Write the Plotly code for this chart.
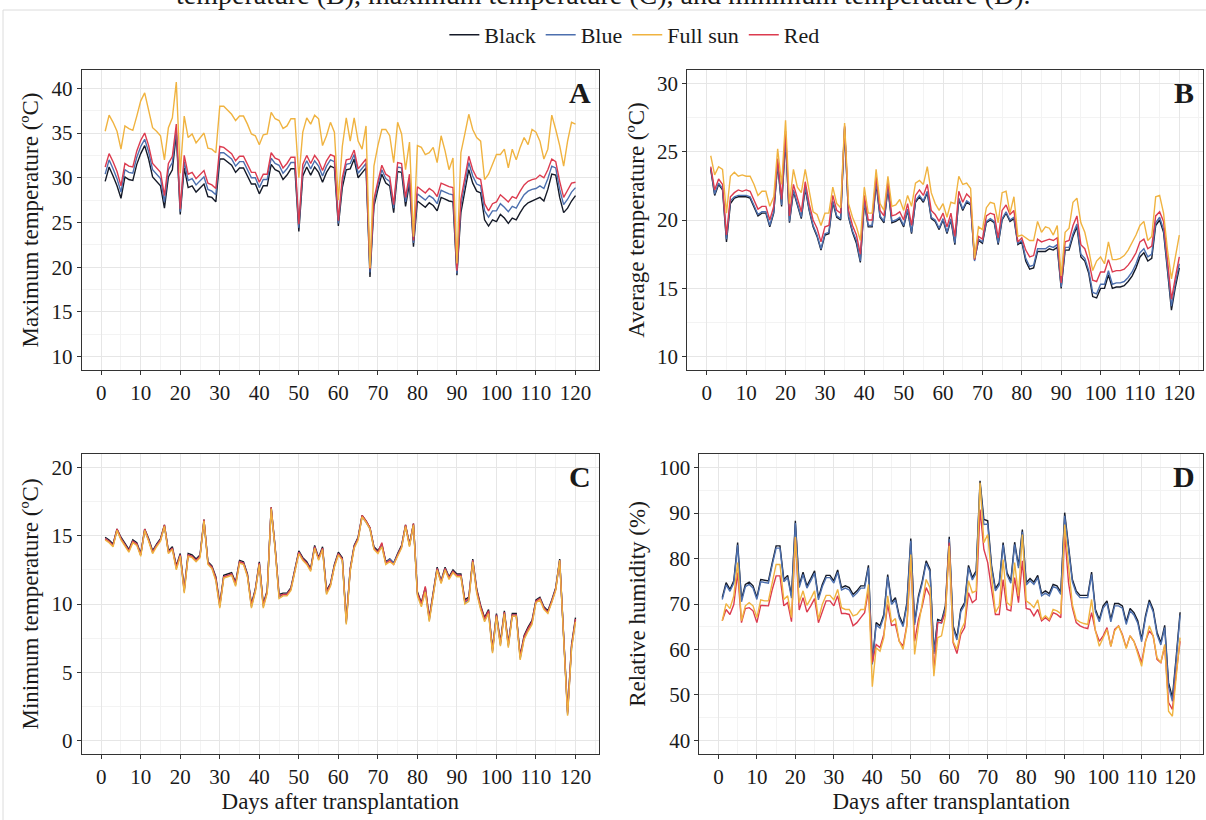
import plotly.graph_objects as go

days = list(range(1, 121))
series_names = ["Black", "Blue", "Full sun", "Red"]
line_colors = {"Black": "#151a28", "Blue": "#4c6fae", "Full sun": "#f0b340", "Red": "#dc3b4f"}
legend_rank = {"Black": 1, "Blue": 2, "Full sun": 3, "Red": 4}
draw_order = ["Black", "Blue", "Red", "Full sun"]

x_ticks = list(range(0, 121, 10))
tmax_ticks = [10, 15, 20, 25, 30, 35, 40]
tavg_ticks = [10, 15, 20, 25, 30]
tmin_ticks = [0, 5, 10, 15, 20]
rh_ticks = [40, 50, 60, 70, 80, 90, 100]

# ---------------- Panel A: maximum temperature ----------------
tmax_black = [29.6, 31.2, 30.2, 29.1, 27.7, 30.1, 29.8, 29.7, 31.5, 32.7,
              33.6, 32.1, 30.1, 29.6, 29.1, 26.6, 30.1, 30.9, 34.9, 25.9,
              31.1, 28.9, 29.1, 28.4, 28.9, 29.3, 27.9, 27.8, 27.3, 32.1,
              32.1, 31.8, 31.4, 30.6, 31.1, 31.1, 30.2, 29.3, 29.3, 28.2,
              29.1, 29.1, 31.5, 30.9, 30.7, 29.8, 30.3, 31.0, 31.0, 24.0,
              30.2, 31.2, 30.3, 31.2, 30.6, 29.5, 30.6, 31.3, 31.1, 24.6,
              28.9, 30.9, 31.0, 32.1, 30.0, 30.6, 31.1, 18.9, 26.8, 28.7,
              30.4, 29.4, 29.1, 26.1, 30.7, 30.6, 26.8, 29.4, 22.3, 27.4,
              27.0, 26.7, 27.2, 26.9, 26.3, 27.8, 27.6, 27.4, 27.3, 19.1,
              26.1, 28.7, 30.9, 29.4, 28.5, 28.3, 25.3, 24.6, 25.3, 25.1,
              25.9, 25.5, 24.9, 25.5, 25.3, 26.1, 26.8, 27.2, 27.4, 27.6,
              27.8, 27.4, 28.7, 30.4, 30.3, 27.8, 26.1, 26.6, 27.4, 28.0]
tmax_blue = [30.4, 32.0, 31.0, 29.9, 28.4, 30.9, 30.6, 30.5, 32.3, 33.5,
             34.3, 32.9, 30.9, 30.4, 29.9, 27.3, 30.9, 31.7, 35.4, 26.2,
             31.8, 29.7, 29.9, 29.2, 29.7, 30.1, 28.7, 28.5, 28.1, 32.8,
             32.8, 32.5, 32.1, 31.3, 31.8, 31.8, 30.9, 30.0, 30.0, 28.9,
             29.8, 29.8, 32.2, 31.6, 31.4, 30.5, 31.0, 31.7, 31.7, 24.4,
             30.9, 31.9, 31.0, 31.9, 31.3, 30.2, 31.3, 32.0, 31.8, 24.9,
             29.5, 31.5, 31.6, 32.6, 30.5, 31.1, 31.6, 19.4, 27.2, 29.2,
             30.9, 29.9, 29.6, 26.6, 31.2, 31.1, 27.3, 29.9, 22.7, 28.2,
             27.8, 27.5, 28.0, 27.7, 27.1, 28.6, 28.4, 28.2, 28.1, 19.3,
             26.9, 29.5, 31.7, 30.2, 29.3, 29.1, 26.3, 25.6, 26.3, 26.3,
             27.1, 26.7, 26.2, 26.8, 26.6, 27.4, 28.1, 28.5, 28.7, 28.8,
             29.1, 28.8, 29.9, 31.3, 31.1, 28.7, 27.0, 27.6, 28.4, 28.9]
tmax_full = [35.2, 37.0, 36.2, 35.2, 33.2, 35.8, 35.5, 35.3, 36.9, 38.6,
             39.5, 37.7, 35.6, 35.2, 34.7, 32.0, 35.6, 36.7, 40.7, 30.5,
             36.9, 34.5, 34.9, 33.9, 34.4, 35.0, 33.3, 33.2, 32.8, 38.0,
             38.0, 37.5, 37.1, 36.4, 36.9, 36.9, 36.0, 34.9, 34.7, 33.7,
             34.8, 34.9, 37.3, 36.6, 36.4, 35.5, 35.8, 36.6, 36.6, 30.0,
             35.1, 36.7, 36.0, 37.0, 36.6, 33.6, 34.7, 36.2, 35.1, 27.5,
             33.5, 36.7, 34.1, 36.7, 34.1, 33.2, 35.8, 19.9, 31.3, 33.6,
             35.4, 35.4, 34.7, 31.7, 36.2, 34.9, 30.9, 34.0, 23.4, 33.6,
             33.4, 32.6, 32.8, 33.4, 31.7, 34.7, 33.0, 30.9, 32.2, 20.4,
             32.8, 34.9, 37.1, 35.4, 34.5, 34.1, 29.8, 30.4, 31.5, 32.6,
             32.6, 33.2, 31.1, 33.2, 32.0, 33.4, 34.5, 33.7, 35.4, 35.1,
             34.1, 32.1, 33.2, 37.0, 35.4, 33.6, 31.3, 34.1, 36.2, 36.0]
tmax_red = [31.2, 32.7, 31.8, 30.7, 29.1, 31.6, 31.3, 31.2, 33.0, 34.2,
            35.0, 33.6, 31.6, 31.1, 30.6, 28.0, 31.6, 32.4, 36.0, 26.5,
            32.5, 30.4, 30.6, 29.9, 30.4, 30.8, 29.4, 29.2, 28.8, 33.5,
            33.4, 33.1, 32.7, 31.9, 32.4, 32.4, 31.5, 30.6, 30.6, 29.5,
            30.4, 30.4, 32.8, 32.2, 32.0, 31.1, 31.6, 32.3, 32.3, 24.8,
            31.5, 32.5, 31.6, 32.5, 31.9, 30.8, 31.9, 32.6, 32.4, 25.2,
            30.0, 32.0, 32.1, 33.1, 31.0, 31.6, 32.1, 19.8, 27.6, 29.6,
            31.4, 30.4, 30.1, 27.0, 31.7, 31.6, 27.8, 30.4, 23.0, 29.0,
            28.6, 28.3, 28.8, 28.5, 27.9, 29.4, 29.2, 29.0, 28.9, 19.6,
            27.6, 30.2, 32.4, 30.9, 30.0, 29.8, 27.1, 26.3, 27.1, 27.3,
            28.1, 27.7, 27.3, 27.9, 27.7, 28.5, 29.2, 29.6, 29.8, 29.9,
            30.3, 30.0, 30.9, 32.1, 31.8, 29.6, 27.8, 28.6, 29.4, 29.5]

# ---------------- Panel B: average temperature ----------------
tavg_black = [23.7, 21.8, 22.6, 22.2, 18.4, 21.2, 21.6, 21.7, 21.7, 21.7,
              21.6, 21.0, 20.3, 20.5, 20.5, 19.5, 20.5, 24.1, 21.0, 25.9,
              19.8, 22.1, 21.0, 20.1, 22.3, 20.7, 19.5, 18.8, 17.8, 18.9,
              19.0, 21.3, 20.2, 20.0, 26.7, 20.2, 19.1, 18.3, 16.9, 21.3,
              19.5, 19.5, 22.7, 20.2, 19.8, 22.3, 19.8, 19.9, 20.1, 19.5,
              20.7, 19.0, 21.3, 21.7, 21.3, 22.0, 20.1, 19.9, 19.3, 20.0,
              19.0, 20.0, 18.2, 21.5, 20.7, 21.3, 21.1, 17.1, 18.5, 18.3,
              19.8, 20.0, 19.8, 18.2, 20.0, 20.5, 19.9, 20.1, 18.2, 18.4,
              17.0, 16.4, 16.5, 17.7, 17.7, 17.7, 17.9, 17.8, 18.0, 15.0,
              17.8, 17.8, 18.8, 19.5, 17.3, 17.0, 16.1, 14.4, 14.3, 15.0,
              15.0, 16.0, 15.0, 15.1, 15.1, 15.2, 15.5, 15.9, 16.5, 17.3,
              17.6, 17.0, 17.2, 19.6, 20.0, 19.1, 16.3, 13.4, 15.1, 16.5]
tavg_blue = [23.8, 21.9, 22.7, 22.3, 18.6, 21.4, 21.7, 21.8, 21.8, 21.8,
             21.7, 21.1, 20.4, 20.6, 20.6, 19.6, 20.6, 24.2, 21.1, 26.0,
             19.9, 22.2, 21.1, 20.2, 22.4, 20.8, 19.6, 18.9, 17.9, 19.0,
             19.1, 21.4, 20.3, 20.1, 26.8, 20.3, 19.2, 18.5, 17.0, 21.4,
             19.6, 19.6, 22.8, 20.3, 19.9, 22.4, 19.9, 20.0, 20.2, 19.6,
             20.8, 19.1, 21.4, 21.8, 21.4, 22.1, 20.2, 20.0, 19.4, 20.1,
             19.1, 20.1, 18.3, 21.6, 20.8, 21.4, 21.2, 17.0, 18.6, 18.4,
             19.9, 20.1, 19.9, 18.3, 20.1, 20.6, 20.0, 20.2, 18.3, 18.5,
             17.2, 16.6, 16.7, 17.9, 17.9, 17.9, 18.1, 18.0, 18.2, 15.1,
             18.0, 18.0, 19.0, 19.7, 17.5, 17.2, 16.3, 14.7, 14.6, 15.3,
             15.3, 16.3, 15.3, 15.4, 15.4, 15.5, 15.8, 16.2, 16.8, 17.6,
             17.9, 17.3, 17.5, 19.8, 20.2, 19.3, 16.5, 13.7, 15.4, 16.8]
tavg_full = [24.7, 23.3, 23.9, 23.7, 20.5, 23.2, 23.5, 23.2, 23.3, 23.2,
             23.2, 22.6, 21.8, 22.1, 22.1, 21.0, 21.7, 25.2, 22.6, 27.3,
             21.2, 23.7, 22.4, 22.0, 23.7, 22.2, 20.6, 20.4, 19.6, 20.5,
             20.5, 22.4, 21.2, 20.9, 27.1, 21.2, 20.2, 19.5, 18.5, 22.4,
             20.5, 20.5, 23.7, 21.2, 20.7, 23.2, 21.0, 21.1, 21.5, 20.7,
             21.8, 21.0, 22.7, 22.9, 22.6, 23.9, 22.0, 21.2, 20.7, 21.2,
             20.2, 21.3, 21.2, 23.2, 22.6, 22.7, 22.3, 17.2, 19.5, 19.3,
             20.9, 21.3, 21.2, 19.8, 22.0, 22.1, 20.5, 21.7, 18.8, 18.9,
             18.7, 18.5, 18.5, 19.9, 19.1, 19.5, 19.4, 18.9, 19.6, 15.9,
             19.1, 19.4, 21.3, 21.6, 19.8, 19.1, 17.8, 16.3, 17.0, 17.3,
             16.8, 18.4, 17.1, 17.1, 17.2, 17.4, 17.8, 18.3, 18.9, 19.6,
             19.9, 18.5, 18.8, 21.7, 21.8, 20.5, 17.8, 15.7, 17.3, 18.9]
tavg_red = [23.9, 22.2, 23.0, 22.6, 18.9, 21.7, 22.0, 22.2, 22.1, 22.2,
            22.1, 21.5, 20.8, 21.0, 21.0, 20.0, 21.0, 24.5, 21.5, 26.5,
            20.3, 22.6, 21.5, 20.6, 22.8, 21.2, 20.0, 19.4, 18.4, 19.5,
            19.6, 21.8, 20.7, 20.5, 26.9, 20.7, 19.6, 18.9, 17.5, 21.8,
            20.0, 20.0, 23.2, 20.7, 20.3, 22.8, 20.3, 20.4, 20.6, 20.0,
            21.2, 19.6, 21.8, 22.2, 21.8, 22.6, 20.7, 20.4, 19.9, 20.5,
            19.5, 20.5, 18.8, 22.1, 21.3, 21.9, 21.6, 17.1, 18.8, 18.6,
            20.3, 20.5, 20.4, 18.7, 20.7, 21.1, 20.4, 20.7, 18.4, 18.7,
            17.8, 17.3, 17.4, 18.6, 18.4, 18.5, 18.6, 18.5, 18.7, 15.4,
            18.4, 18.5, 19.6, 20.3, 18.2, 17.9, 17.0, 15.6, 15.5, 16.2,
            16.2, 17.1, 16.2, 16.3, 16.3, 16.4, 16.7, 17.1, 17.6, 18.4,
            18.6, 17.9, 18.1, 20.3, 20.6, 19.9, 16.9, 14.2, 15.8, 17.3]

# ---------------- Panel C: minimum temperature ----------------
tmin_black = [14.9, 14.7, 14.4, 15.5, 14.9, 14.4, 14.0, 14.7, 14.5, 13.7,
              15.5, 14.8, 13.9, 14.4, 14.8, 15.8, 13.9, 14.2, 12.8, 13.7,
              11.1, 13.7, 13.6, 13.3, 13.6, 16.2, 13.1, 12.8, 12.0, 10.0,
              12.1, 12.2, 12.3, 11.6, 13.2, 13.1, 12.2, 10.0, 11.1, 13.1,
              10.0, 11.0, 17.1, 14.2, 10.7, 10.8, 10.8, 11.2, 12.5, 13.9,
              13.4, 13.1, 12.6, 14.3, 13.4, 14.2, 11.0, 11.5, 12.9, 13.8,
              13.4, 8.8, 12.6, 14.3, 14.9, 16.5, 16.1, 15.6, 14.2, 13.9,
              14.4, 13.1, 13.3, 13.0, 13.7, 14.3, 15.8, 14.4, 15.9, 10.9,
              10.1, 11.2, 9.0, 11.0, 12.7, 11.7, 12.7, 12.0, 12.5, 12.2,
              12.2, 10.3, 10.5, 13.3, 11.1, 9.9, 9.0, 9.6, 6.7, 9.3,
              7.2, 9.5, 7.1, 9.3, 9.3, 6.2, 7.7, 8.3, 8.8, 10.3,
              10.5, 9.8, 9.5, 10.3, 11.2, 13.3, 7.9, 2.1, 7.0, 9.0]
tmin_blue = [14.8, 14.6, 14.3, 15.4, 14.8, 14.3, 13.9, 14.6, 14.4, 13.6,
             15.4, 14.7, 13.8, 14.3, 14.7, 15.7, 13.8, 14.1, 12.6, 13.6,
             10.9, 13.6, 13.5, 13.2, 13.5, 16.1, 13.0, 12.7, 11.8, 9.8,
             12.0, 12.1, 12.2, 11.4, 13.1, 13.0, 12.1, 9.8, 11.0, 13.0,
             9.8, 10.9, 17.0, 14.1, 10.5, 10.7, 10.7, 11.1, 12.4, 13.8,
             13.3, 13.0, 12.5, 14.2, 13.3, 14.1, 10.8, 11.4, 12.8, 13.7,
             13.3, 8.6, 12.5, 14.2, 14.8, 16.4, 16.0, 15.5, 14.1, 13.8,
             14.3, 13.0, 13.3, 13.0, 13.6, 14.2, 15.7, 14.3, 15.8, 10.7,
             9.9, 11.0, 8.8, 10.9, 12.6, 11.6, 12.6, 11.9, 12.4, 12.1,
             12.1, 10.1, 10.3, 13.2, 10.9, 9.7, 8.8, 9.4, 6.5, 9.2,
             7.0, 9.4, 6.9, 9.2, 9.2, 6.0, 7.5, 8.1, 8.6, 10.2,
             10.4, 9.7, 9.4, 10.2, 11.1, 13.2, 7.7, 1.9, 6.8, 8.8]
tmin_full = [14.7, 14.5, 14.2, 15.4, 14.7, 14.2, 13.8, 14.5, 14.3, 13.5,
             15.4, 14.6, 13.7, 14.2, 14.6, 15.7, 13.7, 14.0, 12.5, 13.5,
             10.8, 13.5, 13.4, 13.1, 13.4, 16.1, 12.9, 12.6, 11.7, 9.7,
             11.9, 12.0, 12.1, 11.3, 13.0, 12.9, 12.0, 9.7, 10.9, 12.9,
             9.7, 10.8, 17.0, 14.0, 10.4, 10.6, 10.6, 11.0, 12.3, 13.7,
             13.2, 12.9, 12.4, 14.1, 13.2, 14.0, 10.7, 11.3, 12.7, 13.6,
             13.2, 8.5, 12.4, 14.1, 14.7, 16.4, 16.0, 15.5, 14.0, 13.7,
             14.2, 12.9, 13.1, 12.9, 13.5, 14.1, 15.7, 14.2, 15.8, 10.6,
             9.8, 10.9, 8.7, 10.8, 12.5, 11.5, 12.5, 11.8, 12.3, 12.0,
             12.0, 10.0, 10.2, 13.1, 10.8, 9.6, 8.7, 9.3, 6.4, 9.1,
             6.9, 9.3, 6.8, 9.1, 9.1, 5.9, 7.4, 8.0, 8.5, 10.1,
             10.3, 9.6, 9.3, 10.1, 11.0, 13.2, 7.6, 1.8, 6.7, 8.7]
tmin_red = [14.8, 14.6, 14.3, 15.5, 14.8, 14.3, 13.9, 14.6, 14.4, 13.6,
            15.5, 14.7, 13.8, 14.3, 14.7, 15.8, 13.8, 14.1, 12.7, 13.6,
            11.0, 13.6, 13.5, 13.2, 13.5, 16.2, 13.0, 12.7, 11.9, 9.9,
            12.0, 12.1, 12.2, 11.5, 13.1, 13.0, 12.1, 9.9, 11.0, 13.0,
            9.9, 10.9, 17.1, 14.1, 10.6, 10.7, 10.7, 11.1, 12.4, 13.8,
            13.3, 13.0, 12.5, 14.2, 13.3, 14.1, 10.9, 11.4, 12.8, 13.7,
            13.3, 8.7, 12.5, 14.2, 14.8, 16.5, 16.1, 15.6, 14.1, 13.8,
            14.5, 13.0, 13.2, 12.9, 13.6, 14.2, 15.8, 14.3, 15.9, 10.8,
            10.0, 11.3, 8.9, 10.9, 12.6, 11.6, 12.6, 11.9, 12.4, 12.1,
            12.1, 10.2, 10.4, 13.2, 11.0, 9.8, 8.9, 9.5, 6.6, 9.2,
            7.1, 9.4, 7.0, 9.2, 9.2, 6.1, 7.6, 8.2, 8.7, 10.2,
            10.4, 9.7, 9.4, 10.2, 11.1, 13.2, 7.8, 2.0, 6.9, 8.9]

# ---------------- Panel D: relative humidity ----------------
rh_black = [71.4, 74.7, 73.2, 75.1, 83.5, 71.0, 74.3, 74.8, 74.0, 71.4,
            75.4, 75.3, 75.1, 79.1, 82.8, 82.8, 75.4, 76.3, 71.8, 88.3,
            74.1, 77.0, 74.0, 75.6, 77.3, 71.4, 74.3, 76.3, 76.3, 75.1,
            77.5, 73.6, 74.0, 73.6, 72.1, 72.9, 74.0, 74.0, 78.5, 57.1,
            65.9, 65.2, 67.7, 76.5, 70.4, 71.4, 67.4, 65.5, 70.3, 84.4,
            65.9, 71.8, 75.1, 79.5, 77.6, 59.5, 66.6, 66.3, 69.6, 84.8,
            65.2, 62.6, 68.8, 70.3, 78.5, 75.8, 77.3, 97.1, 88.6, 88.3,
            78.4, 73.4, 74.7, 83.5, 76.9, 75.1, 83.6, 78.4, 86.4, 74.7,
            75.6, 74.8, 76.3, 72.3, 72.9, 72.3, 74.3, 74.0, 72.6, 90.1,
            82.0, 75.4, 72.9, 71.9, 71.9, 71.9, 77.0, 68.8, 66.6, 69.6,
            70.7, 66.6, 70.1, 70.1, 69.6, 66.0, 69.0, 68.1, 66.3, 62.2,
            67.4, 70.9, 68.8, 63.8, 61.5, 65.3, 52.7, 49.4, 58.5, 68.2]
rh_blue = [71.0, 74.2, 72.8, 74.6, 83.0, 70.5, 73.8, 74.3, 73.5, 71.0,
           74.9, 74.8, 74.6, 78.6, 82.3, 82.3, 74.9, 75.8, 71.3, 87.8,
           73.6, 76.5, 73.5, 75.1, 76.8, 70.9, 73.8, 75.8, 75.8, 74.6,
           77.0, 73.1, 73.5, 73.1, 71.6, 72.4, 73.5, 73.5, 78.0, 56.7,
           65.4, 64.7, 67.2, 76.0, 69.9, 70.9, 66.9, 65.0, 69.8, 83.9,
           65.4, 71.3, 74.6, 79.0, 77.1, 59.0, 66.1, 65.8, 69.1, 84.3,
           64.7, 62.1, 68.3, 69.8, 78.0, 75.3, 76.8, 96.5, 87.5, 87.6,
           77.9, 72.9, 74.2, 83.0, 76.4, 74.6, 83.1, 77.9, 85.9, 74.2,
           75.1, 74.3, 75.8, 71.8, 72.4, 71.8, 73.8, 73.5, 72.1, 89.4,
           81.5, 74.9, 72.4, 71.4, 71.4, 71.4, 76.5, 68.3, 66.1, 69.1,
           70.2, 66.1, 69.6, 69.6, 69.1, 65.5, 68.5, 67.6, 65.8, 61.7,
           66.9, 70.4, 68.3, 63.3, 61.0, 64.8, 51.8, 48.6, 57.8, 67.5]
rh_full = [66.3, 70.1, 69.0, 71.8, 79.1, 66.3, 69.6, 70.3, 69.6, 67.0,
           70.9, 70.7, 70.7, 74.7, 78.7, 78.7, 71.0, 71.8, 67.0, 84.8,
           70.3, 72.9, 69.7, 71.2, 72.9, 66.6, 69.9, 71.9, 71.9, 70.9,
           73.2, 69.2, 68.8, 68.8, 67.4, 67.7, 68.8, 68.8, 74.3, 51.8,
           60.4, 59.6, 62.6, 71.8, 66.0, 66.8, 61.8, 60.0, 65.2, 80.9,
           58.9, 65.2, 70.3, 75.4, 73.6, 54.1, 62.6, 63.0, 67.4, 82.8,
           61.8, 60.0, 64.1, 65.9, 75.1, 72.5, 72.9, 96.7, 83.5, 85.3,
           76.2, 68.1, 69.6, 79.8, 70.3, 69.6, 79.1, 71.8, 85.3, 70.7,
           70.1, 69.2, 70.9, 66.6, 67.4, 66.6, 68.8, 68.5, 67.9, 87.5,
           78.4, 69.9, 66.6, 66.0, 65.7, 65.5, 71.0, 64.1, 60.7, 62.6,
           64.4, 60.7, 64.1, 65.2, 63.0, 60.2, 63.0, 61.8, 59.3, 56.3,
           61.6, 65.2, 63.0, 58.2, 57.1, 61.1, 46.4, 45.3, 54.1, 62.6]
rh_red = [66.3, 68.8, 67.7, 69.9, 76.9, 65.9, 69.0, 69.2, 68.5, 65.9,
          69.7, 69.6, 69.6, 73.2, 76.2, 76.2, 69.6, 70.3, 66.1, 84.6,
          68.7, 71.4, 68.2, 69.6, 71.2, 65.9, 68.5, 70.7, 70.7, 69.6,
          71.8, 67.9, 67.9, 67.7, 65.2, 65.9, 67.0, 68.1, 73.0, 57.1,
          61.1, 60.4, 63.3, 69.9, 65.3, 65.5, 61.8, 60.7, 65.5, 79.8,
          61.8, 66.6, 69.6, 73.6, 71.8, 54.9, 65.9, 65.9, 68.1, 83.5,
          61.5, 59.1, 63.3, 64.8, 72.5, 70.3, 71.0, 90.8, 82.0, 79.1,
          73.2, 67.7, 67.7, 75.4, 68.8, 68.5, 75.8, 70.3, 79.5, 69.0,
          68.8, 67.4, 68.8, 66.3, 67.0, 66.3, 68.1, 67.7, 67.0, 85.7,
          74.7, 69.2, 65.9, 65.2, 64.8, 64.6, 68.1, 64.1, 61.8, 63.0,
          64.8, 60.7, 64.4, 65.2, 63.3, 60.4, 63.0, 61.8, 59.6, 57.1,
          61.8, 64.1, 63.0, 57.8, 57.1, 60.7, 48.3, 46.8, 54.9, 61.8]

panels = [
    {"id": "", "letter": "A", "title": "Maximum temperature (ºC)", "ticks": tmax_ticks,
     "minor": 2.5, "range": [8.5, 42.05], "xdom": [0.0677, 0.4967], "ydom": [0.5488, 0.9146],
     "data": {"Black": tmax_black, "Blue": tmax_blue, "Full sun": tmax_full, "Red": tmax_red},
     "xtitle": None},
    {"id": "2", "letter": "B", "title": "Average temperature (ºC)", "ticks": tavg_ticks,
     "minor": 2.5, "range": [9.03, 30.97], "xdom": [0.5699, 0.9973], "ydom": [0.5488, 0.9146],
     "data": {"Black": tavg_black, "Blue": tavg_blue, "Full sun": tavg_full, "Red": tavg_red},
     "xtitle": None},
    {"id": "3", "letter": "C", "title": "Minimum temperature (ºC)", "ticks": tmin_ticks,
     "minor": 2.5, "range": [-1.0, 21.0], "xdom": [0.0677, 0.4967], "ydom": [0.0805, 0.4463],
     "data": {"Black": tmin_black, "Blue": tmin_blue, "Full sun": tmin_full, "Red": tmin_red},
     "xtitle": "Days after transplantation"},
    {"id": "4", "letter": "D", "title": "Relative humidity (%)", "ticks": rh_ticks,
     "minor": 5, "range": [37.0, 103.0], "xdom": [0.5799, 0.9975], "ydom": [0.0805, 0.4463],
     "data": {"Black": rh_black, "Blue": rh_blue, "Full sun": rh_full, "Red": rh_red},
     "xtitle": "Days after transplantation"},
]

FONT = "Liberation Serif"
TXT = "#1a1a1a"
fig = go.Figure()
layout = {}
annotations = []

for pi, p in enumerate(panels):
    xa = "x" + p["id"]
    ya = "y" + p["id"]
    for name in draw_order:
        fig.add_trace(go.Scatter(
            x=days, y=p["data"][name], mode="lines", name=name,
            line=dict(color=line_colors[name], width=1.4),
            xaxis=xa, yaxis=ya, legendgroup=name, legendrank=legend_rank[name],
            showlegend=(pi == 0)))
    axis_common = dict(
        showline=True, linecolor="#333333", linewidth=1, mirror=True,
        ticks="outside", ticklen=4, tickwidth=1, tickcolor="#333333",
        showgrid=True, gridcolor="#e6e6e6", gridwidth=1, zeroline=False,
        tickfont=dict(family=FONT, size=21, color=TXT))
    layout["xaxis" + p["id"]] = dict(
        axis_common, domain=p["xdom"], anchor=ya, range=[-4.95, 125.95],
        tickmode="array", tickvals=x_ticks,
        minor=dict(dtick=5, tick0=0, showgrid=True, gridcolor="#f3f3f3", gridwidth=1),
        title=dict(text=p["xtitle"], font=dict(family=FONT, size=23, color=TXT), standoff=2)
        if p["xtitle"] else None)
    layout["yaxis" + p["id"]] = dict(
        axis_common, domain=p["ydom"], anchor=xa, range=p["range"],
        tickmode="array", tickvals=p["ticks"],
        minor=dict(dtick=p["minor"], tick0=0, showgrid=True, gridcolor="#f3f3f3", gridwidth=1),
        title=dict(text=p["title"], font=dict(family=FONT, size=23, color=TXT), standoff=6))
    annotations.append(dict(
        text="<b>" + p["letter"] + "</b>", xref=xa + " domain", yref=ya + " domain",
        x=0.963, y=0.925, xanchor="center", yanchor="middle", showarrow=False,
        font=dict(family=FONT, size=30, color=TXT)))

annotations.append(dict(
    text="temperature (B), maximum temperature (C), and minimum temperature (D).",
    xref="paper", yref="paper", x=0.5, y=1 - 12 / 820, xanchor="center", yanchor="bottom",
    showarrow=False, font=dict(family=FONT, size=28, color=TXT)))

fig.update_layout(
    width=1206, height=820, margin=dict(l=0, r=0, t=0, b=0),
    paper_bgcolor="white", plot_bgcolor="white",
    font=dict(family=FONT, size=20, color=TXT),
    legend=dict(orientation="h", x=0.526, xanchor="center", y=1 - 35 / 820, yanchor="middle",
                font=dict(family=FONT, size=22, color=TXT), itemwidth=30,
                bgcolor="rgba(0,0,0,0)"),
    annotations=annotations,
    shapes=[dict(type="rect", xref="paper", yref="paper", x0=3 / 1206, x1=1.01,
                 y0=-0.01, y1=1 - 10 / 820, line=dict(color="#dcdcdc", width=1),
                 fillcolor="rgba(0,0,0,0)", layer="below")],
    showlegend=True,
    **layout)

fig.write_html("out.html")
